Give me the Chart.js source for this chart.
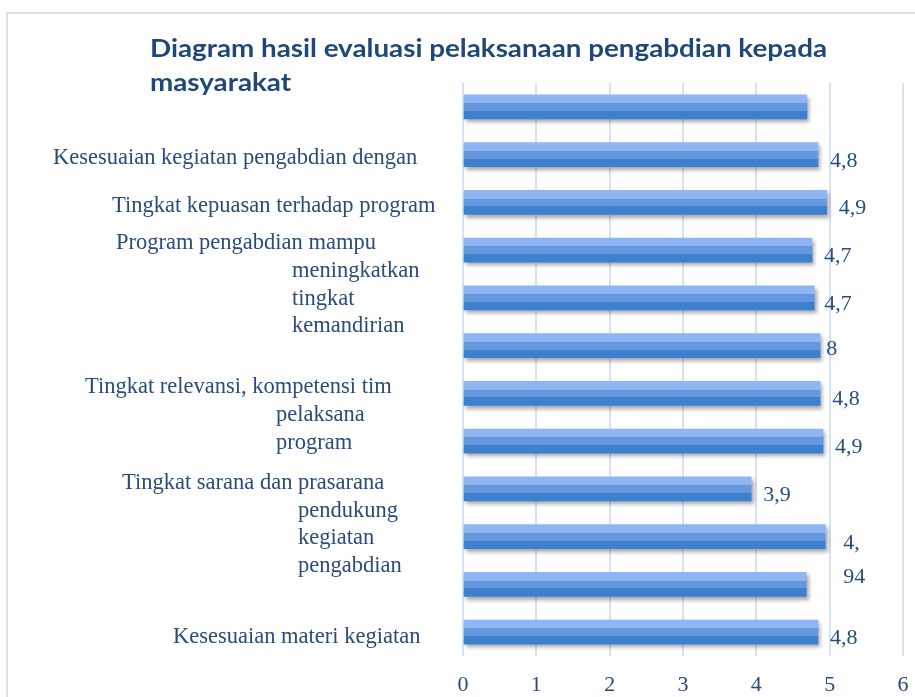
<!DOCTYPE html>
<html>
<head>
<meta charset="utf-8">
<script src="https://cdn.jsdelivr.net/npm/chart.js@4.4.1/dist/chart.umd.min.js"></script>
<style>
  html, body { margin: 0; padding: 0; background: #ffffff; }
  #wrap { width: 915px; height: 697px; position: relative; }
</style>
</head>
<body>
<div id="wrap"><canvas id="evalChart" width="915" height="697"></canvas></div>
<script>
const categories = [
    '',
    'Kesesuaian kegiatan pengabdian dengan',
    'Tingkat kepuasan terhadap program',
    ['Program pengabdian mampu', 'meningkatkan', 'tingkat', 'kemandirian'],
    '',
    '',
    ['Tingkat relevansi, kompetensi tim', 'pelaksana', 'program'],
    '',
    ['Tingkat sarana dan prasarana', 'pendukung', 'kegiatan', 'pengabdian'],
    '',
    '',
    'Kesesuaian materi kegiatan'
];
const scores = [4.69, 4.84, 4.96, 4.76, 4.79, 4.87, 4.87, 4.91, 3.93, 4.94, 4.68, 4.84];
const scoreLabels = ['', '4,8', '4,9', '4,7', '4,7', '8', '4,8', '4,9', '3,9', ['4,', '94'], '', '4,8'];
const xTicks = [0, 1, 2, 3, 4, 5, 6];
const chartTitle = ['Diagram hasil evaluasi pelaksanaan pengabdian kepada', 'masyarakat'];

const textColor = '#2A4B7C';
const serif = '"Liberation Serif", "Times New Roman", serif';
const barThick = 24;

// where each category text block sits (left x for first / following lines, baseline shift)
const labelPlace = {
    1: { x: [53], dy: 9 },
    2: { x: [112], dy: 10 },
    3: { x: [116, 292], dy: -1 },
    6: { x: [85, 276], dy: 0 },
    8: { x: [122, 298], dy: 0 },
    11: { x: [173], dy: 11 }
};
// value label gap to bar end and baseline shift
const valuePlace = { 4: { gap: 10 }, 5: { gap: 6, dy: -3 }, 9: { gap: 18 } };

function stripeFill(ctx) {
    const chart = ctx.chart;
    if (ctx.type !== 'data' || !chart.chartArea || !chart.scales.y) return '#6699DD';
    const yc = chart.scales.y.getPixelForValue(ctx.dataIndex);
    if (!isFinite(yc)) return '#6699DD';
    const g = chart.ctx.createLinearGradient(0, yc - barThick / 2, 0, yc + barThick / 2);
    g.addColorStop(0, '#8DB6F3');
    g.addColorStop(0.34, '#8DB6F3');
    g.addColorStop(0.34, '#6698DD');
    g.addColorStop(0.67, '#6698DD');
    g.addColorStop(0.67, '#3E80D0');
    g.addColorStop(1, '#3E80D0');
    return g;
}

const decor = {
    id: 'decor',
    beforeDraw(chart) {
        const c = chart.ctx;
        c.save();
        c.fillStyle = '#ffffff';
        c.fillRect(0, 0, chart.width, chart.height);
        c.strokeStyle = '#D6E3F4';
        c.lineWidth = 2;
        c.strokeRect(7, 13, chart.width + 20, chart.height + 20);
        c.restore();
    },
    beforeDatasetsDraw(chart) {
        const c = chart.ctx;
        c.save();
        c.shadowColor = 'rgba(60, 60, 60, 0.45)';
        c.shadowBlur = 4;
        c.shadowOffsetX = 2;
        c.shadowOffsetY = 3;
    },
    afterDatasetsDraw(chart) {
        const c = chart.ctx;
        c.restore();

        // value labels
        const meta = chart.getDatasetMeta(0);
        c.save();
        c.fillStyle = textColor;
        c.font = '22px ' + serif;
        c.textBaseline = 'alphabetic';
        c.textAlign = 'left';
        meta.data.forEach((bar, i) => {
            const lbl = scoreLabels[i];
            if (!lbl) return;
            const p = valuePlace[i] || {};
            const lines = Array.isArray(lbl) ? lbl : [lbl];
            lines.forEach((t, k) => {
                c.fillText(t, bar.x + (p.gap ?? 12), bar.y + 12 + (p.dy ?? 0) + k * 34);
            });
        });

        // category labels
        c.font = '22.5px ' + serif;
        const yScale = chart.scales.y;
        categories.forEach((lbl, i) => {
            const p = labelPlace[i];
            if (!lbl || !p) return;
            const lines = Array.isArray(lbl) ? lbl : [lbl];
            const yc = yScale.getPixelForValue(i);
            lines.forEach((t, k) => {
                c.fillText(t, k === 0 ? p.x[0] : p.x[1], yc + p.dy + k * 27.7);
            });
        });

        // title
        c.fillStyle = '#1F477A';
        c.font = 'bold 24px Lato, "Liberation Sans", "Noto Sans", sans-serif';
        const w0 = c.measureText(chartTitle[0]).width;
        const sx = 677 / w0;
        chartTitle.forEach((t, k) => {
            c.save();
            c.translate(150, 57 + k * 34);
            c.scale(sx, 1);
            c.fillText(t, 0, 0);
            c.restore();
        });
        c.restore();
    }
};

new Chart(document.getElementById('evalChart'), {
    type: 'bar',
    data: {
        labels: categories,
        datasets: [{
            data: scores,
            backgroundColor: stripeFill,
            borderWidth: 0,
            barThickness: barThick
        }]
    },
    options: {
        indexAxis: 'y',
        responsive: false,
        animation: false,
        devicePixelRatio: 1,
        layout: { padding: { left: 463, top: 83, right: 12, bottom: 0 } },
        plugins: {
            legend: { display: false },
            title: { display: false },
            tooltip: { enabled: false }
        },
        scales: {
            y: {
                display: false,
                offset: true
            },
            x: {
                min: 0,
                max: 6,
                afterBuildTicks: (axis) => { axis.ticks = xTicks.map(v => ({ value: v })); },
                afterFit: (axis) => { axis.height = 41; },
                grid: { color: '#D6E3F5', lineWidth: 2, drawTicks: true, tickLength: 16, tickColor: 'rgba(0,0,0,0)' },
                border: { display: false },
                ticks: {
                    padding: 0,
                    color: textColor,
                    font: { family: serif, size: 22 },
                    callback: (v) => String(v)
                }
            }
        }
    },
    plugins: [decor]
});
</script>
</body>
</html>
